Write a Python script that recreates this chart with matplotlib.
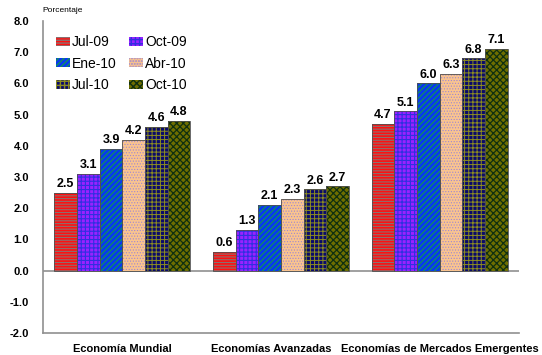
import numpy as np
import matplotlib
matplotlib.use("Agg")
import matplotlib.pyplot as plt
import matplotlib.transforms as mtransforms

plt.rcParams['font.family'] = ['Liberation Sans', 'DejaVu Sans']

regions = ['Economía Mundial', 'Economías Avanzadas', 'Economías de Mercados Emergentes']
periods = ['Jul-09', 'Oct-09', 'Ene-10', 'Abr-10', 'Jul-10', 'Oct-10']
values = [
    [2.5, 0.6, 4.7],   # Jul-09
    [3.1, 1.3, 5.1],   # Oct-09
    [3.9, 2.1, 6.0],   # Ene-10
    [4.2, 2.3, 6.3],   # Abr-10
    [4.6, 2.6, 6.8],   # Jul-10
    [4.8, 2.7, 7.1],   # Oct-10
]
y_ticks = np.arange(-2, 8.1, 1.0)

# fill colour, hatch pattern, hatch colour, hatch width for each period
styles = [
    ('#FF1010', '------', '#8a7070', 0.8),
    ('#9A22FF', '++++', '#3030E0', 0.8),
    ('#0838F0', '//////', '#109060', 0.9),
    ('#FAC48E', '......', '#A088D0', 0.5),
    ('#0A0A6A', '++++', '#8C8C20', 0.7),
    ('#6E6E00', 'xxxxx', '#103010', 0.9),
]

fig = plt.figure(figsize=(5.42, 3.55), dpi=100)
ax = fig.add_axes([43 / 542, 1 - 333 / 355, 476 / 542, 312 / 355])

x = np.arange(len(regions))
w = 1 / 7
handles = []
for i, (name, vals) in enumerate(zip(periods, values)):
    face, hatch, hcol, hlw = styles[i]
    pos = x + (i - 2.5) * w
    with plt.rc_context({'hatch.linewidth': hlw}):
        bars = ax.bar(pos, vals, w, color=face, hatch=hatch, edgecolor=hcol,
                      linewidth=0, label=name, zorder=2)
    for b in bars:
        if hasattr(b, 'set_hatch_linewidth'):
            b.set_hatch_linewidth(hlw)
    ax.bar(pos, vals, w, facecolor='none', edgecolor='#505050',
           linewidth=0.6, zorder=3)
    handles.append(bars)
    for px, v in zip(pos, vals):
        ax.text(px, v + 0.09, f'{v:.1f}', ha='center', va='bottom',
                fontsize=9, fontweight='bold')

ax.axhline(0, color='#909090', linewidth=1.2, zorder=1)
ax.set_xlim(-0.5, 2.5)
ax.set_ylim(-2, 8)
ax.set_yticks(y_ticks)
ax.set_yticklabels([f'{t:.1f}' for t in y_ticks], fontsize=8, fontweight='bold')
ax.set_xticks(x)
ax.set_xticklabels(regions, fontsize=8, fontweight='bold')
ax.tick_params(axis='y', length=0, pad=10)
ax.tick_params(axis='x', length=0, pad=8)
# middle label nudged left so it clears its neighbour
lab = ax.get_xticklabels()[1]
lab.set_transform(lab.get_transform() +
                  mtransforms.ScaledTranslation(-10 / 100, 0, fig.dpi_scale_trans))
for s in ('top', 'right'):
    ax.spines[s].set_visible(False)
for s in ('left', 'bottom'):
    ax.spines[s].set_color('#909090')
    ax.spines[s].set_linewidth(1.2)

fig.text(42 / 542, 1 - 11 / 355, 'Porcentaje', fontsize=6, va='center', ha='left')

# legend filled row by row: reorder for matplotlib's column-major layout
order = [0, 2, 4, 1, 3, 5]
ax.legend(handles=[handles[k] for k in order], labels=[periods[k] for k in order],
          ncol=2, frameon=False, fontsize=10,
          loc='upper left', bbox_to_anchor=(56 / 542, 1 - 35 / 355),
          bbox_transform=fig.transFigure, borderpad=0, borderaxespad=0,
          handlelength=1.0, handleheight=0.6, handletextpad=0.15,
          columnspacing=0.9, labelspacing=0.55)

fig.savefig('out.png', dpi=100)
